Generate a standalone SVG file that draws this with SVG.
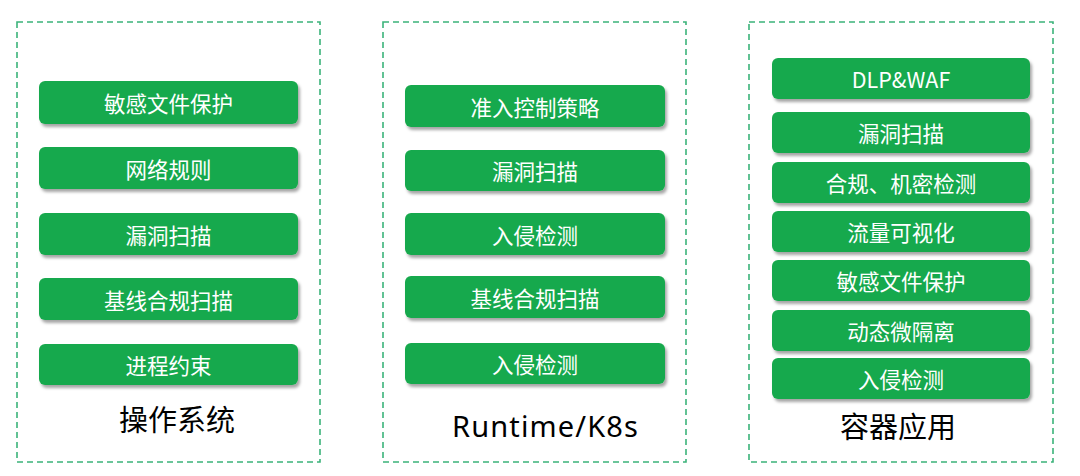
<svg xmlns="http://www.w3.org/2000/svg" width="1080" height="476" viewBox="0 0 1080 476">
<defs>
<filter id="sh" x="-10%" y="-30%" width="130%" height="180%">
<feDropShadow dx="2" dy="3" stdDeviation="1.8" flood-color="#000" flood-opacity="0.35"/>
</filter>
<style>
.panel{fill:#fff;stroke:#3bb37a;stroke-width:1.6;stroke-dasharray:6 4}
.box{fill:#19a94d;filter:url(#sh)}
.lbl{fill:#fff;font-family:"Noto Sans CJK SC","Noto Sans",sans-serif;font-size:21.5px;text-anchor:middle;dominant-baseline:central}
.ttl{fill:#000;font-family:"Noto Sans","Noto Sans CJK SC",sans-serif;font-size:29px;text-anchor:middle}
</style>
</defs>
<rect width="1080" height="476" fill="#fff"/>
<g id="panel-os">
<rect class="panel" x="17" y="22" width="303" height="440"/>
<text class="ttl" x="177" y="431">操作系统</text>
</g>
<g id="panel-k8s">
<rect class="panel" x="383" y="22" width="303" height="440"/>
<text class="ttl" x="545" y="437" textLength="186">Runtime/K8s</text>
</g>
<g id="panel-app">
<rect class="panel" x="749" y="22" width="304" height="440"/>
<text class="ttl" x="898" y="438">容器应用</text>
</g>
<g id="os-1"><rect class="box" x="39" y="81" width="259" height="43" rx="6"/><text class="lbl" x="168.5" y="102.5">敏感文件保护</text></g>
<g id="os-2"><rect class="box" x="39" y="147" width="259" height="42" rx="6"/><text class="lbl" x="168.5" y="168">网络规则</text></g>
<g id="os-3"><rect class="box" x="39" y="213" width="259" height="42" rx="6"/><text class="lbl" x="168.5" y="234">漏洞扫描</text></g>
<g id="os-4"><rect class="box" x="39" y="278" width="259" height="42" rx="6"/><text class="lbl" x="168.5" y="299">基线合规扫描</text></g>
<g id="os-5"><rect class="box" x="39" y="344" width="259" height="41" rx="6"/><text class="lbl" x="168.5" y="364.5">进程约束</text></g>
<g id="k8s-1"><rect class="box" x="405" y="85" width="260" height="42" rx="6"/><text class="lbl" x="535" y="106">准入控制策略</text></g>
<g id="k8s-2"><rect class="box" x="405" y="150" width="260" height="41" rx="6"/><text class="lbl" x="535" y="170.5">漏洞扫描</text></g>
<g id="k8s-3"><rect class="box" x="405" y="213" width="260" height="42" rx="6"/><text class="lbl" x="535" y="234">入侵检测</text></g>
<g id="k8s-4"><rect class="box" x="405" y="276" width="260" height="42" rx="6"/><text class="lbl" x="535" y="297">基线合规扫描</text></g>
<g id="k8s-5"><rect class="box" x="405" y="343" width="260" height="41" rx="6"/><text class="lbl" x="535" y="363.5">入侵检测</text></g>
<g id="app-1"><rect class="box" x="772" y="58" width="258" height="41" rx="6"/><text class="lbl" x="901" y="78.5">DLP&amp;WAF</text></g>
<g id="app-2"><rect class="box" x="772" y="112" width="258" height="41" rx="6"/><text class="lbl" x="901" y="132.5">漏洞扫描</text></g>
<g id="app-3"><rect class="box" x="772" y="162" width="258" height="41" rx="6"/><text class="lbl" x="901" y="182.5">合规、机密检测</text></g>
<g id="app-4"><rect class="box" x="772" y="211" width="258" height="41" rx="6"/><text class="lbl" x="901" y="231.5">流量可视化</text></g>
<g id="app-5"><rect class="box" x="772" y="260" width="258" height="41" rx="6"/><text class="lbl" x="901" y="280.5">敏感文件保护</text></g>
<g id="app-6"><rect class="box" x="772" y="310" width="258" height="41" rx="6"/><text class="lbl" x="901" y="330.5">动态微隔离</text></g>
<g id="app-7"><rect class="box" x="772" y="358" width="258" height="41" rx="6"/><text class="lbl" x="901" y="378.5">入侵检测</text></g>
<g id="connectors"></g>
</svg>
